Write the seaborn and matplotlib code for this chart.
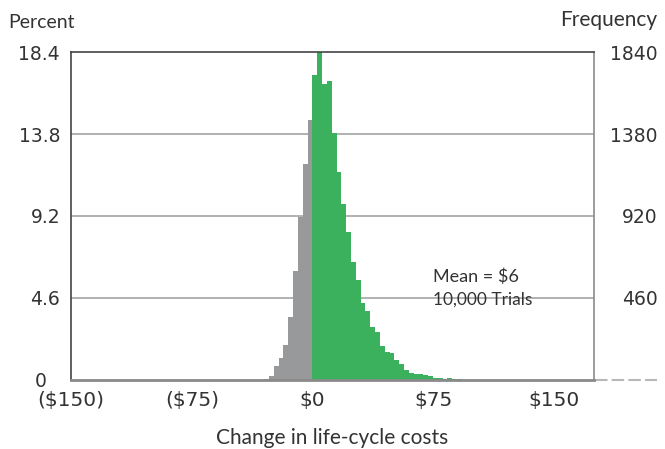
import numpy as np
import pandas as pd
import matplotlib
matplotlib.use("Agg")
import matplotlib.pyplot as plt
import matplotlib.transforms as mtransforms
import seaborn as sns

sns.set_style("white")
plt.rcParams["font.family"] = ["Lato", "DejaVu Sans"]

# ==========================================
# Datos (frecuencias)
# ==========================================
bin_width = 3          # cada barra = $3
first_bin = -30        # borde izquierdo de la primera barra
freq = [5, 22, 75, 125, 195, 355, 612, 914, 1212, 1457,
        1713, 1840, 1660, 1679, 1386, 1167, 987, 832, 664, 561,
        430, 387, 299, 271, 191, 159, 150, 112, 90, 56,
        38, 32, 35, 28, 19, 10, 10, 3, 11, 3, 2]

percent_ticks = [0, 4.6, 9.2, 13.8, 18.4]
freq_ticks = [460, 920, 1380, 1840]
x_ticks = [-150, -75, 0, 75, 150]
x_labels = ["($150)", "($75)", "$0", "$75", "$150"]

last_edge = first_bin + bin_width * len(freq)
centros = first_bin + bin_width * (np.arange(len(freq)) + 0.5)
df = pd.DataFrame({"centro": centros, "freq": freq})
df["lado"] = np.where(df["centro"] < 0, "perdida", "ganancia")

verde = "#3bb15d"
gris = "#97999b"
texto = "#333333"
fuente_num = "DejaVu Sans"  # los números del original son anchos

# ==========================================
# Gráfico
# ==========================================
fig = plt.figure(figsize=(6.65, 4.49), dpi=100)
ax = fig.add_axes([0.107, 0.154, 0.786, 0.730])

sns.histplot(data=df, x="centro", weights="freq", binwidth=bin_width,
             binrange=(first_bin, last_edge), hue="lado",
             palette={"perdida": gris, "ganancia": verde}, alpha=1,
             linewidth=0, legend=False, ax=ax)

ax.set_xlim(-150, 175)
ax.set_ylim(0, 1840)

# eje izquierdo en porcentaje
ax.set_yticks([p * 100 for p in percent_ticks])
ax.set_yticklabels(["0" if p == 0 else f"{p}" for p in percent_ticks])
ax.set_xticks(x_ticks)
ax.set_xticklabels(x_labels)
ax.tick_params(axis="both", length=0, colors=texto, labelfontfamily=fuente_num)
ax.tick_params(axis="y", pad=8, labelsize=13.5)
ax.tick_params(axis="x", pad=8, labelsize=14.5)
ax.set_xlabel("Change in life-cycle costs", fontsize=15, color=texto, labelpad=13)
ax.set_ylabel("")

# el "0" del original queda algo más a la izquierda
fig.canvas.draw()
etq0 = ax.get_yticklabels()[0]
etq0.set_transform(etq0.get_transform() +
                   mtransforms.ScaledTranslation(-13 / 100, 0, fig.dpi_scale_trans))

for y in freq_ticks[:-1]:
    ax.axhline(y, color="#ababab", lw=1.3, zorder=0)

ax.spines["top"].set_color("#444444")
ax.spines["left"].set_color("#444444")
ax.spines["right"].set_color("#8a8a8a")
ax.spines["bottom"].set_color("#8a8a8a")
ax.spines["bottom"].set_linewidth(2)
for s in ax.spines.values():
    if s.get_linewidth() < 1.5:
        s.set_linewidth(1.2)

# eje derecho en frecuencia
ax2 = ax.twinx()
ax2.set_ylim(0, 1840)
ax2.set_yticks(freq_ticks)
ax2.set_yticklabels([str(f) for f in freq_ticks], ha="right")
ax2.tick_params(axis="y", length=0, colors=texto, pad=46,
                labelsize=13.5, labelfontfamily=fuente_num)
for s in ax2.spines.values():
    s.set_visible(False)

# línea punteada a la derecha del eje
ax.plot([1.003, 1.12], [0, 0], transform=ax.transAxes, color="#b8b8b8",
        lw=1.5, ls=(0, (6, 2)), clip_on=False)

fig.text(0.012, 0.95, "Percent", fontsize=14, color=texto, va="center")
fig.text(0.988, 0.955, "Frequency", fontsize=15, color=texto, va="center", ha="right")

ax.text(75, 578, "Mean = $6", fontsize=13, color=texto, va="center")
ax.text(75, 449, "10,000 Trials", fontsize=12.5, color=texto, va="center")

fig.savefig("out.png", dpi=100)
